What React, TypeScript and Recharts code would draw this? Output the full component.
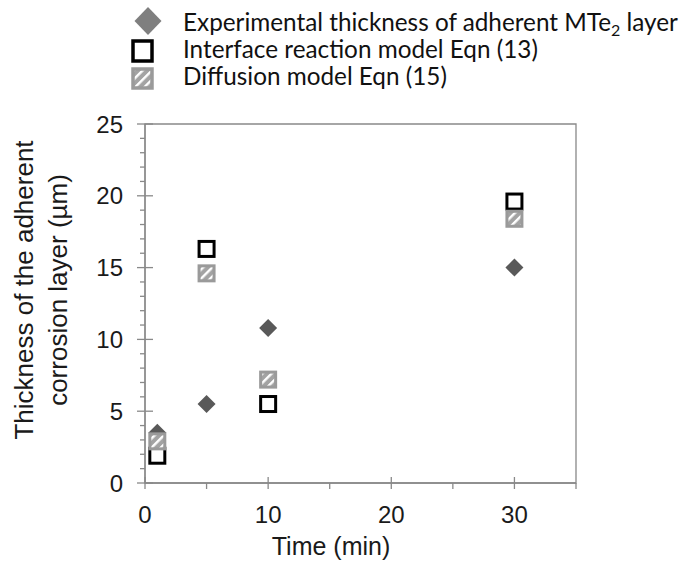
import { ScatterChart, Scatter, XAxis, YAxis, ReferenceArea, Legend, Label } from "recharts";

const times = [1, 5, 10, 30];
const experimental = [3.5, 5.5, 10.8, 15.0];
const interfaceModel = [1.9, 16.3, 5.5, 19.6];
const diffusionModel = [2.9, 14.6, 7.2, 18.4];

const seriesNames = [
  "Experimental thickness of adherent MTe",
  "Interface reaction model Eqn (13)",
  "Diffusion model Eqn (15)",
];

const xTicks = [0, 5, 10, 15, 20, 25, 30, 35];
const xLabelled = [0, 10, 20, 30];
const yTicks = [0, 1, 2, 3, 4, 5, 6, 7, 8, 9, 10, 11, 12, 13, 14, 15, 16, 17, 18, 19, 20, 21, 22, 23, 24, 25];
const yLabelled = [0, 5, 10, 15, 20, 25];

const AXIS = "#898989";
const ARIAL = "'Liberation Sans', Arial, sans-serif";
const LEGEND_FONT = "Lato, 'Noto Sans', sans-serif";

const toPoints = (ys: number[]) => times.map((t, i) => ({ x: t, y: ys[i] }));

function XTick(props: any) {
  const { x, y, payload } = props;
  const major = xLabelled.includes(payload.value);
  return (
    <g>
      <line x1={x} x2={x} y1={major ? y - 6 : y} y2={y + 6} stroke={AXIS} strokeWidth={1.3} />
      {major && (
        <text x={x} y={y + 40} textAnchor="middle" fontSize={24} fontFamily={ARIAL} fill="#1a1a1a">
          {payload.value}
        </text>
      )}
    </g>
  );
}

function YTick(props: any) {
  const { x, y, payload } = props;
  const major = yLabelled.includes(payload.value);
  return (
    <g>
      <line x1={x - (major ? 8 : 5)} x2={major ? x + 8 : x} y1={y} y2={y} stroke={AXIS} strokeWidth={1.3} />
      {major && (
        <text x={x - 22} y={y + 8.5} textAnchor="end" fontSize={24} fontFamily={ARIAL} fill="#1a1a1a">
          {payload.value}
        </text>
      )}
    </g>
  );
}

function HatchDefs() {
  return (
    <defs>
      <pattern id="hatch" patternUnits="userSpaceOnUse" width={6.5} height={6.5} patternTransform="rotate(45)">
        <rect width={6.5} height={6.5} fill="#a3a3a3" />
        <rect width={2.4} height={6.5} fill="#ffffff" />
      </pattern>
    </defs>
  );
}

function Diamond(props: any) {
  const { cx, cy } = props;
  const r = 9;
  return <polygon points={`${cx},${cy - r} ${cx + r},${cy} ${cx},${cy + r} ${cx - r},${cy}`} fill="#595959" />;
}

function OpenSquare(props: any) {
  const { cx, cy } = props;
  return <rect x={cx - 7.5} y={cy - 7.5} width={15} height={15} fill="#ffffff" stroke="#000000" strokeWidth={3} />;
}

function HatchSquare(props: any) {
  const { cx, cy } = props;
  return (
    <g>
      <HatchDefs />
      <rect x={cx - 7.5} y={cy - 7.5} width={15} height={15} fill="url(#hatch)" stroke="#9a9a9a" strokeWidth={3} />
    </g>
  );
}

function LegendBox() {
  const tx = 183;
  return (
    <svg width={683} height={100} style={{ display: "block" }}>
      <HatchDefs />
      <polygon points="148,7 161.5,21 148,35 134.5,21" fill="#7f7f7f" />
      <rect x={133} y={41} width={19} height={20} fill="#ffffff" stroke="#000000" strokeWidth={3.5} />
      <rect x={133} y={69} width={19} height={19} fill="url(#hatch)" stroke="#9a9a9a" strokeWidth={3.5} />
      <text x={tx} y={31} fontSize={24.3} fontFamily={LEGEND_FONT} fill="#111">
        {seriesNames[0]}
        <tspan fontSize={16} dy={5}>2</tspan>
        <tspan dy={-5}> layer</tspan>
      </text>
      <text x={tx} y={58} fontSize={24.3} fontFamily={LEGEND_FONT} fill="#111">
        {seriesNames[1]}
      </text>
      <text x={tx} y={85} fontSize={24.3} fontFamily={LEGEND_FONT} fill="#111">
        {seriesNames[2]}
      </text>
    </svg>
  );
}

function YTitle() {
  return (
    <g fontFamily={ARIAL} fontSize={26} fill="#1a1a1a" textAnchor="middle">
      <text x={33} y={290} transform="rotate(-90 33 290)">Thickness of the adherent</text>
      <text x={67} y={290} transform="rotate(-90 67 290)">corrosion layer (µm)</text>
    </g>
  );
}

function XTitle() {
  return (
    <text x={331} y={555} textAnchor="middle" fontFamily={ARIAL} fontSize={25} fill="#1a1a1a">
      Time (min)
    </text>
  );
}

export default function App() {
  return (
    <div style={{ width: 683, height: 568, position: "relative" }}>
      <style>{"body{margin:0}"}</style>
      <ScatterChart width={683} height={568} margin={{ top: 124, right: 107, bottom: 84, left: 144 }}>
        <XAxis
          type="number"
          dataKey="x"
          domain={[0, 35]}
          ticks={xTicks}
          interval={0}
          height={1}
          tickSize={0}
          tickMargin={0}
          tick={XTick}
          axisLine={{ stroke: AXIS, strokeWidth: 1.3 }}
        >
          <Label content={XTitle} />
        </XAxis>
        <YAxis
          type="number"
          dataKey="y"
          domain={[0, 25]}
          ticks={yTicks}
          interval={0}
          width={1}
          tickSize={0}
          tickMargin={0}
          tick={YTick}
          axisLine={{ stroke: AXIS, strokeWidth: 1.3 }}
        >
          <Label content={YTitle} />
        </YAxis>
        <ReferenceArea x1={0} x2={35} y1={0} y2={25} fill="none" stroke={AXIS} strokeWidth={1.3} />
        <Scatter name={seriesNames[0]} data={toPoints(experimental)} shape={Diamond} isAnimationActive={false} />
        <Scatter name={seriesNames[1]} data={toPoints(interfaceModel)} shape={OpenSquare} isAnimationActive={false} />
        <Scatter name={seriesNames[2]} data={toPoints(diffusionModel)} shape={HatchSquare} isAnimationActive={false} />
        <Legend
          layout="horizontal"
          verticalAlign="middle"
          align="center"
          content={LegendBox}
          wrapperStyle={{ top: 0, left: 0, width: 683, height: 100 }}
        />
      </ScatterChart>
    </div>
  );
}
